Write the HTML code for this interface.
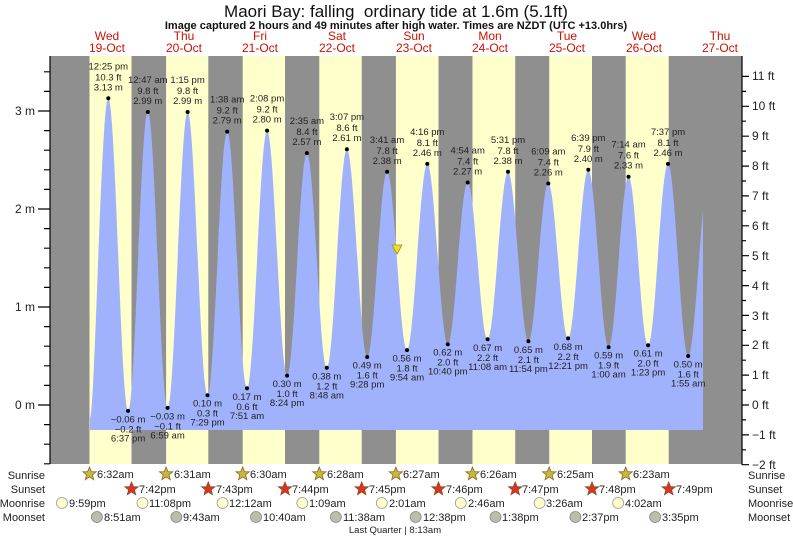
<!DOCTYPE html>
<html><head><meta charset="utf-8"><style>
body{margin:0;background:#fff;}
svg{display:block;font-family:"Liberation Sans",Arial,sans-serif;}
.t{font-size:9.5px;fill:#222;text-anchor:middle;}
.d{font-size:12px;fill:#cc1100;text-anchor:middle;}
.b{font-size:12px;fill:#222;}
.r{font-size:11px;fill:#222;}
</style></head><body>
<svg width="793" height="537" viewBox="0 0 793 537" xmlns="http://www.w3.org/2000/svg">
<defs><clipPath id="c"><rect x="90" y="50" width="613" height="400"/></clipPath></defs>
<text x="396" y="17" font-size="17" text-anchor="middle" fill="#111">Maori Bay: falling &#160;ordinary tide at 1.6m (5.1ft)</text>
<text x="396" y="29" font-size="11" font-weight="bold" text-anchor="middle" fill="#111">Image captured 2 hours and 49 minutes after high water. Times are NZDT (UTC +13.0hrs)</text>
<g class="d">
<text x="107" y="40">Wed</text><text x="107" y="52">19-Oct</text>
<text x="184" y="40">Thu</text><text x="184" y="52">20-Oct</text>
<text x="260" y="40">Fri</text><text x="260" y="52">21-Oct</text>
<text x="337" y="40">Sat</text><text x="337" y="52">22-Oct</text>
<text x="414" y="40">Sun</text><text x="414" y="52">23-Oct</text>
<text x="490" y="40">Mon</text><text x="490" y="52">24-Oct</text>
<text x="567" y="40">Tue</text><text x="567" y="52">25-Oct</text>
<text x="644" y="40">Wed</text><text x="644" y="52">26-Oct</text>
<text x="720" y="40">Thu</text><text x="720" y="52">27-Oct</text>
</g>
<rect x="50" y="56" width="692" height="408" fill="#8f8f8f"/>
<g fill="#ffffcc">
<rect x="89.5" y="56" width="42" height="408"/>
<rect x="166.1" y="56" width="42.2" height="408"/>
<rect x="242.7" y="56" width="42.3" height="408"/>
<rect x="319.3" y="56" width="42.4" height="408"/>
<rect x="395.9" y="56" width="42.6" height="408"/>
<rect x="472.5" y="56" width="42.7" height="408"/>
<rect x="549.2" y="56" width="42.8" height="408"/>
<rect x="625.7" y="56" width="43" height="408"/>
</g>
<path clip-path="url(#c)" fill="#a0b2fc" d="M90,430 L90,418 C95,412 101.1,98.3 108.3,98.3 C115.5,98.3 120.9,410.9 128.1,410.9 C135.3,410.9 140.6,112 147.8,112 C155,112 160.4,407.9 167.6,407.9 C174.8,407.9 180.4,112 187.6,112 C194.8,112 200.3,395.2 207.5,395.2 C214.7,395.2 220,131.6 227.2,131.6 C234.4,131.6 239.8,388.3 247,388.3 C254.2,388.3 259.9,130.6 267.1,130.6 C274.3,130.6 279.9,375.6 287.1,375.6 C294.3,375.6 299.7,153.1 306.9,153.1 C314.1,153.1 319.6,367.8 326.8,367.8 C334,367.8 339.7,149.2 346.9,149.2 C354.1,149.2 360,357 367.2,357 C374.4,357 379.9,171.8 387.1,171.8 C394.3,171.8 399.8,350.1 407,350.1 C414.2,350.1 420.1,163.9 427.3,163.9 C434.5,163.9 440.6,344.2 447.8,344.2 C455,344.2 460.5,182.5 467.7,182.5 C474.9,182.5 480.4,339.3 487.6,339.3 C494.8,339.3 500.8,171.8 508,171.8 C515.2,171.8 521.2,341.3 528.4,341.3 C535.6,341.3 541.1,183.5 548.3,183.5 C555.5,183.5 560.9,338.4 568.1,338.4 C575.3,338.4 581.1,169.8 588.3,169.8 C595.5,169.8 601.4,347.2 608.6,347.2 C615.8,347.2 621.3,176.7 628.5,176.7 C635.7,176.7 640.9,345.2 648.1,345.2 C655.3,345.2 660.8,163.9 668,163.9 C675.2,163.9 681,356 688.2,356 C695.4,356 701.4,179.6 708.6,179.6 L708.6,430 Z"/>
<g fill="#000">
<circle cx="108.3" cy="98.3" r="2"/><circle cx="128.1" cy="410.9" r="2"/><circle cx="147.8" cy="112" r="2"/><circle cx="167.6" cy="407.9" r="2"/><circle cx="187.6" cy="112" r="2"/><circle cx="207.5" cy="395.2" r="2"/><circle cx="227.2" cy="131.6" r="2"/><circle cx="247" cy="388.3" r="2"/><circle cx="267.1" cy="130.6" r="2"/><circle cx="287.1" cy="375.6" r="2"/><circle cx="306.9" cy="153.1" r="2"/><circle cx="326.8" cy="367.8" r="2"/><circle cx="346.9" cy="149.2" r="2"/><circle cx="367.2" cy="357" r="2"/><circle cx="387.1" cy="171.8" r="2"/><circle cx="407" cy="350.1" r="2"/><circle cx="427.3" cy="163.9" r="2"/><circle cx="447.8" cy="344.2" r="2"/><circle cx="467.7" cy="182.5" r="2"/><circle cx="487.6" cy="339.3" r="2"/><circle cx="508" cy="171.8" r="2"/><circle cx="528.4" cy="341.3" r="2"/><circle cx="548.3" cy="183.5" r="2"/><circle cx="568.1" cy="338.4" r="2"/><circle cx="588.3" cy="169.8" r="2"/><circle cx="608.6" cy="347.2" r="2"/><circle cx="628.5" cy="176.7" r="2"/><circle cx="648.1" cy="345.2" r="2"/><circle cx="668" cy="163.9" r="2"/><circle cx="688.2" cy="356" r="2"/>
</g>
<g class="t">
<text x="108.3" y="69.3">12:25 pm</text><text x="108.3" y="80.3">10.3 ft</text><text x="108.3" y="90.3">3.13 m</text>
<text x="147.8" y="83">12:47 am</text><text x="147.8" y="94">9.8 ft</text><text x="147.8" y="104">2.99 m</text>
<text x="187.6" y="83">1:15 pm</text><text x="187.6" y="94">9.8 ft</text><text x="187.6" y="104">2.99 m</text>
<text x="227.2" y="102.6">1:38 am</text><text x="227.2" y="113.6">9.2 ft</text><text x="227.2" y="123.6">2.79 m</text>
<text x="267.1" y="101.6">2:08 pm</text><text x="267.1" y="112.6">9.2 ft</text><text x="267.1" y="122.6">2.80 m</text>
<text x="306.9" y="124.1">2:35 am</text><text x="306.9" y="135.1">8.4 ft</text><text x="306.9" y="145.1">2.57 m</text>
<text x="346.9" y="120.2">3:07 pm</text><text x="346.9" y="131.2">8.6 ft</text><text x="346.9" y="141.2">2.61 m</text>
<text x="387.1" y="142.8">3:41 am</text><text x="387.1" y="153.8">7.8 ft</text><text x="387.1" y="163.8">2.38 m</text>
<text x="427.3" y="134.9">4:16 pm</text><text x="427.3" y="145.9">8.1 ft</text><text x="427.3" y="155.9">2.46 m</text>
<text x="467.7" y="153.5">4:54 am</text><text x="467.7" y="164.5">7.4 ft</text><text x="467.7" y="174.5">2.27 m</text>
<text x="508" y="142.8">5:31 pm</text><text x="508" y="153.8">7.8 ft</text><text x="508" y="163.8">2.38 m</text>
<text x="548.3" y="154.5">6:09 am</text><text x="548.3" y="165.5">7.4 ft</text><text x="548.3" y="175.5">2.26 m</text>
<text x="588.3" y="140.8">6:39 pm</text><text x="588.3" y="151.8">7.9 ft</text><text x="588.3" y="161.8">2.40 m</text>
<text x="628.5" y="147.7">7:14 am</text><text x="628.5" y="158.7">7.6 ft</text><text x="628.5" y="168.7">2.33 m</text>
<text x="668" y="134.9">7:37 pm</text><text x="668" y="145.9">8.1 ft</text><text x="668" y="155.9">2.46 m</text>

<text x="128.1" y="422.4">−0.06 m</text><text x="128.1" y="432.4">−0.2 ft</text><text x="128.1" y="441.4">6:37 pm</text>
<text x="167.6" y="419.4">−0.03 m</text><text x="167.6" y="429.4">−0.1 ft</text><text x="167.6" y="438.4">6:59 am</text>
<text x="207.5" y="406.7">0.10 m</text><text x="207.5" y="416.7">0.3 ft</text><text x="207.5" y="425.7">7:29 pm</text>
<text x="247" y="399.8">0.17 m</text><text x="247" y="409.8">0.6 ft</text><text x="247" y="418.8">7:51 am</text>
<text x="287.1" y="387.1">0.30 m</text><text x="287.1" y="397.1">1.0 ft</text><text x="287.1" y="406.1">8:24 pm</text>
<text x="326.8" y="379.3">0.38 m</text><text x="326.8" y="389.3">1.2 ft</text><text x="326.8" y="398.3">8:48 am</text>
<text x="367.2" y="368.5">0.49 m</text><text x="367.2" y="378.5">1.6 ft</text><text x="367.2" y="387.5">9:28 pm</text>
<text x="407" y="361.6">0.56 m</text><text x="407" y="371.6">1.8 ft</text><text x="407" y="380.6">9:54 am</text>
<text x="447.8" y="355.7">0.62 m</text><text x="447.8" y="365.7">2.0 ft</text><text x="447.8" y="374.7">10:40 pm</text>
<text x="487.6" y="350.8">0.67 m</text><text x="487.6" y="360.8">2.2 ft</text><text x="487.6" y="369.8">11:08 am</text>
<text x="528.4" y="352.8">0.65 m</text><text x="528.4" y="362.8">2.1 ft</text><text x="528.4" y="371.8">11:54 pm</text>
<text x="568.1" y="349.9">0.68 m</text><text x="568.1" y="359.9">2.2 ft</text><text x="568.1" y="368.9">12:21 pm</text>
<text x="608.6" y="358.7">0.59 m</text><text x="608.6" y="368.7">1.9 ft</text><text x="608.6" y="377.7">1:00 am</text>
<text x="648.1" y="356.7">0.61 m</text><text x="648.1" y="366.7">2.0 ft</text><text x="648.1" y="375.7">1:23 pm</text>
<text x="688.2" y="367.5">0.50 m</text><text x="688.2" y="377.5">1.6 ft</text><text x="688.2" y="386.5">1:55 am</text>
</g>
<polygon points="392,245 402,245 397,254" fill="#f0e020" stroke="#a09020" stroke-width="0.8"/>
<g stroke="#000" stroke-width="1.2" fill="none">
<line x1="50" y1="56" x2="50" y2="464"/>
<line x1="742" y1="56" x2="742" y2="465"/>
<path d="M44,463.8h6M44,444.2h6M44,424.6h6M38,405h12M44,385.4h6M44,365.8h6M44,346.2h6M44,326.6h6M38,307h12M44,287.4h6M44,267.8h6M44,248.2h6M44,228.6h6M38,209h12M44,189.4h6M44,169.8h6M44,150.2h6M44,130.6h6M38,111h12M44,91.4h6M44,71.8h6"/>
<path d="M742,464.7h7M742,449.8h4M742,434.9h7M742,419.9h4M742,405h7M742,390.1h4M742,375.1h7M742,360.2h4M742,345.3h7M742,330.4h4M742,315.4h7M742,300.5h4M742,285.6h7M742,270.6h4M742,255.7h7M742,240.7h4M742,225.8h7M742,210.9h4M742,195.9h7M742,181h4M742,166.1h7M742,151.1h4M742,136.2h7M742,121.2h4M742,106.3h7M742,91.4h4M742,76.4h7"/>
</g>
<g class="b" text-anchor="end">
<text x="35" y="409">0 m</text><text x="35" y="311">1 m</text><text x="35" y="213">2 m</text><text x="35" y="115">3 m</text>
</g>
<g class="b">
<text x="752" y="469">−2 ft</text><text x="752" y="439">−1 ft</text><text x="752" y="409">0 ft</text><text x="752" y="379">1 ft</text><text x="752" y="349">2 ft</text><text x="752" y="320">3 ft</text><text x="752" y="290">4 ft</text><text x="752" y="260">5 ft</text><text x="752" y="230">6 ft</text><text x="752" y="200">7 ft</text><text x="752" y="170">8 ft</text><text x="752" y="140">9 ft</text><text x="752" y="110">10 ft</text><text x="752" y="80">11 ft</text>
</g>
<g class="r" text-anchor="end">
<text x="45" y="479">Sunrise</text><text x="45" y="493">Sunset</text><text x="45" y="507">Moonrise</text><text x="45" y="521">Moonset</text>
</g>
<g class="r">
<text x="748" y="479">Sunrise</text><text x="748" y="493">Sunset</text><text x="748" y="507">Moonrise</text><text x="748" y="521">Moonset</text>
</g>
<defs>
<polygon id="st" points="0,-7 1.9,-2.3 6.7,-2.2 2.9,0.8 4.2,5.7 0,2.9 -4.2,5.7 -2.9,0.8 -6.7,-2.2 -1.9,-2.3"/>
</defs>
<g fill="#c8b840" stroke="#8a6a20" stroke-width="0.8">
<use href="#st" x="89.5" y="474"/><use href="#st" x="166.1" y="474"/><use href="#st" x="242.7" y="474"/><use href="#st" x="319.3" y="474"/><use href="#st" x="395.9" y="474"/><use href="#st" x="472.5" y="474"/><use href="#st" x="549.2" y="474"/><use href="#st" x="625.7" y="474"/>
</g>
<g fill="#dd3322" stroke="#8a4a20" stroke-width="0.8">
<use href="#st" x="131.5" y="489"/><use href="#st" x="208.3" y="489"/><use href="#st" x="285" y="489"/><use href="#st" x="361.7" y="489"/><use href="#st" x="438.5" y="489"/><use href="#st" x="515.2" y="489"/><use href="#st" x="592" y="489"/><use href="#st" x="668.7" y="489"/>
</g>
<g class="r">
<text x="97" y="478">6:32am</text><text x="174" y="478">6:31am</text><text x="250" y="478">6:30am</text><text x="327" y="478">6:28am</text><text x="403" y="478">6:27am</text><text x="480" y="478">6:26am</text><text x="557" y="478">6:25am</text><text x="633" y="478">6:23am</text>
<text x="139" y="493">7:42pm</text><text x="216" y="493">7:43pm</text><text x="292" y="493">7:44pm</text><text x="369" y="493">7:45pm</text><text x="446" y="493">7:46pm</text><text x="522" y="493">7:47pm</text><text x="599" y="493">7:48pm</text><text x="676" y="493">7:49pm</text>
<text x="69" y="507">9:59pm</text><text x="149" y="507">11:08pm</text><text x="229" y="507">12:12am</text><text x="309" y="507">1:09am</text><text x="389" y="507">2:01am</text><text x="468" y="507">2:46am</text><text x="546" y="507">3:26am</text><text x="625" y="507">4:02am</text>
<text x="104" y="521">8:51am</text><text x="183" y="521">9:43am</text><text x="263" y="521">10:40am</text><text x="343" y="521">11:38am</text><text x="423" y="521">12:38pm</text><text x="502" y="521">1:38pm</text><text x="582" y="521">2:37pm</text><text x="662" y="521">3:35pm</text>
</g>
<g fill="#ffffcc" stroke="#999" stroke-width="0.8">
<circle cx="62" cy="503" r="5.5"/><circle cx="142.5" cy="503" r="5.5"/><circle cx="222.6" cy="503" r="5.5"/><circle cx="302.3" cy="503" r="5.5"/><circle cx="381.8" cy="503" r="5.5"/><circle cx="460.8" cy="503" r="5.5"/><circle cx="539.6" cy="503" r="5.5"/><circle cx="618.2" cy="503" r="5.5"/>
</g>
<g fill="#bdbda8" stroke="#888" stroke-width="0.8">
<circle cx="96.9" cy="517" r="5.5"/><circle cx="176.3" cy="517" r="5.5"/><circle cx="256" cy="517" r="5.5"/><circle cx="335.8" cy="517" r="5.5"/><circle cx="415.7" cy="517" r="5.5"/><circle cx="495.5" cy="517" r="5.5"/><circle cx="575.4" cy="517" r="5.5"/><circle cx="655.1" cy="517" r="5.5"/>
</g>
<text x="395" y="533" font-size="9.5" text-anchor="middle" fill="#222">Last Quarter | 8:13am</text>
</svg>
</body></html>
